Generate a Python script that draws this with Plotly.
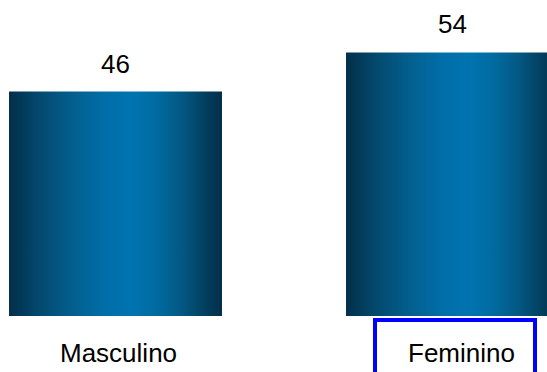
import plotly.graph_objects as go

categories = ["Masculino", "Feminino"]
values = [46, 54]

W, H = 547, 372
bar_half = 0.316

scale = [
    [0.0, "#022f4a"],
    [0.15, "#044a70"],
    [0.3, "#035f8e"],
    [0.45, "#016ea8"],
    [0.58, "#0074b0"],
    [0.7, "#016a9f"],
    [0.82, "#035680"],
    [0.92, "#033f5f"],
    [1.0, "#022f4a"],
]

fig = go.Figure()
for i, (c, v) in enumerate(zip(categories, values)):
    fig.add_trace(go.Scatter(
        x=[i - bar_half, i + bar_half, i + bar_half, i - bar_half, i - bar_half],
        y=[0, 0, v, v, 0],
        mode="lines", line=dict(width=0), fill="toself",
        fillgradient=dict(type="horizontal", colorscale=scale,
                          start=i - bar_half, stop=i + bar_half),
        hoverinfo="skip", showlegend=False, name=c,
    ))
    fig.add_annotation(x=i, y=v, text=str(v), showarrow=False,
                       yanchor="bottom", yshift=11,
                       font=dict(family="Liberation Sans, Arial", size=26, color="#000"))

label_shift = [3, 8.5]
for i, c in enumerate(categories):
    fig.add_annotation(x=i, y=1 - 352.5 / H, yref="paper", text=c, showarrow=False,
                       yanchor="middle", xshift=label_shift[i],
                       font=dict(family="Liberation Sans, Arial", size=26, color="#000"))

fig.add_shape(type="rect", xref="paper", yref="paper",
              x0=375 / W, x1=535 / W, y0=1 - 320 / H, y1=-0.2,
              line=dict(color="#0000ff", width=4), fillcolor="rgba(0,0,0,0)")

fig.update_layout(
    width=W, height=H, margin=dict(l=0, r=0, t=0, b=0),
    paper_bgcolor="white", plot_bgcolor="white",
    xaxis=dict(range=[-115.5 / 337, (W - 115.5) / 337], visible=False),
    yaxis=dict(range=[-(H - 316) / 4.88, 316 / 4.88], visible=False),
)
fig.write_html("out.html")
